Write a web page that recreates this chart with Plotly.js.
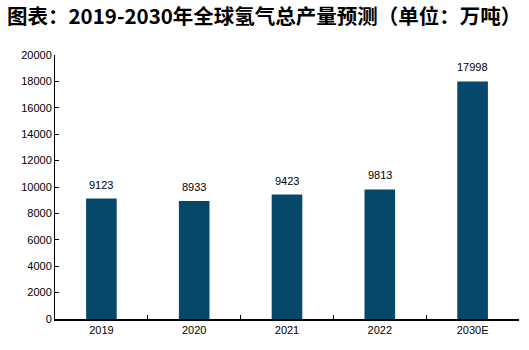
<!DOCTYPE html>
<html>
<head>
<meta charset="utf-8">
<script src="https://cdn.plot.ly/plotly-3.0.1.min.js"></script>
<style>html,body{margin:0;padding:0;background:#fff;}#chart{width:529px;height:350px;}</style>
</head>
<body>
<div id="chart"></div>
<script>
const categories = ["2019", "2020", "2021", "2022", "2030E"];
const production = [9123, 8933, 9423, 9813, 17998];
const yTicks = [0, 2000, 4000, 6000, 8000, 10000, 12000, 14000, 16000, 18000, 20000];
const titleText = "图表：2019-2030年全球氢气总产量预测（单位：万吨）";

const labelFont = {family: "Liberation Sans, Arial, sans-serif", size: 11, color: "#000"};

const trace = {
  type: "bar",
  x: categories,
  y: production,
  width: 0.33,
  marker: {color: "#05486a"},
  hoverinfo: "none"
};

const annotations = categories.map((c, i) => ({
  x: i, y: production[i], xref: "x", yref: "y",
  text: String(production[i]),
  showarrow: false, yanchor: "bottom", yshift: 6,
  font: labelFont
}));

const layout = {
  width: 529, height: 350,
  margin: {l: 55, r: 10, t: 55, b: 31},
  paper_bgcolor: "#fff", plot_bgcolor: "#fff",
  showlegend: false,
  annotations: annotations,
  title: {
    text: "<b>" + titleText + "</b>",
    x: 7 / 529, xanchor: "left", xref: "container",
    y: 1 - 17 / 350, yanchor: "middle", yref: "container",
    font: {family: "Noto Sans CJK SC, sans-serif", size: 20.5, color: "#000"}
  },
  xaxis: {
    type: "category",
    categoryarray: categories,
    range: [-0.5, categories.length - 0.5],
    autorange: false,
    showline: true, linecolor: "#000", linewidth: 1.5,
    ticks: "inside", ticklen: 4, tickcolor: "#000", tickson: "boundaries",
    showgrid: false, zeroline: false,
    tickfont: labelFont
  },
  yaxis: {
    range: [0, 20000],
    autorange: false,
    tickvals: yTicks,
    ticktext: yTicks.map(String),
    showline: true, linecolor: "#000", linewidth: 1,
    ticks: "inside", ticklen: 4, tickcolor: "#000",
    showgrid: false, zeroline: false,
    tickfont: labelFont
  }
};

Plotly.newPlot("chart", [trace], layout, {displayModeBar: false, staticPlot: true});
</script>
</body>
</html>
